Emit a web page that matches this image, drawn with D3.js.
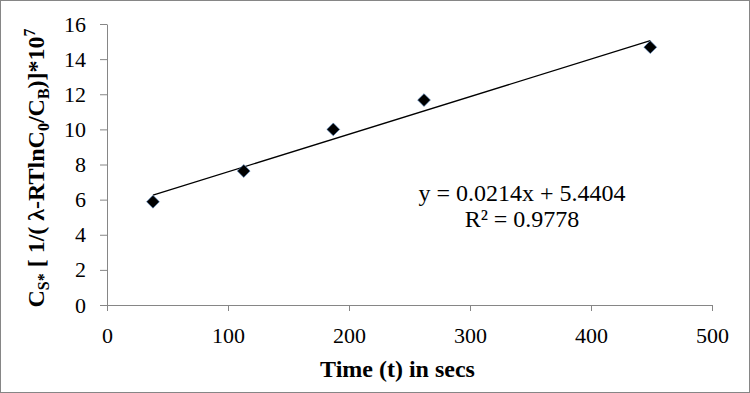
<!DOCTYPE html>
<html>
<head>
<meta charset="utf-8">
<script src="https://cdn.jsdelivr.net/npm/d3@7"></script>
<style>
  body { margin: 0; background: #fff; }
  svg text { font-family: "Liberation Serif", "Times New Roman", serif; fill: #000; }
</style>
</head>
<body>
<div id="chart"></div>
<script>
/// DATA ///
const timeSecs = [38, 113, 187, 262, 449];
const csValues = [5.88, 7.63, 10.0, 11.67, 14.68];
const xTicks = [0, 100, 200, 300, 400, 500];
const yTicks = [0, 2, 4, 6, 8, 10, 12, 14, 16];
const trendSlope = 0.0214;
const trendIntercept = 5.4404;
const trendR2 = 0.9778;

const width = 750, height = 393;
const margin = { top: 24, right: 38, bottom: 88, left: 107 };

const svg = d3
  .select("#chart")
  .append("svg")
  .attr("width", width)
  .attr("height", height);

// outer frame
svg
  .append("rect")
  .attr("x", 0.5)
  .attr("y", 0.5)
  .attr("width", width - 1)
  .attr("height", height - 1)
  .attr("fill", "#fff")
  .attr("stroke", "#868686");

const x = d3
  .scaleLinear()
  .domain([0, 500])
  .range([margin.left, width - margin.right]);

const y = d3
  .scaleLinear()
  .domain([0, 16])
  .range([height - margin.bottom, margin.top]);

// axes
const xAxis = svg
  .append("g")
  .attr("transform", `translate(0,${y(0)})`)
  .call(d3.axisBottom(x).tickValues(xTicks).tickSize(6).tickPadding(16).tickSizeOuter(0));

const yAxis = svg
  .append("g")
  .attr("transform", `translate(${x(0)},0)`)
  .call(d3.axisLeft(y).tickValues(yTicks).tickSize(7).tickPadding(14).tickSizeOuter(0));

[xAxis, yAxis].forEach((g) => {
  g.attr("font-size", 22);
  g.select(".domain").attr("stroke", "#868686");
  g.selectAll(".tick line").attr("stroke", "#868686");
});

// trendline
const xs = d3.extent(timeSecs);
svg
  .append("line")
  .attr("x1", x(xs[0]))
  .attr("y1", y(trendSlope * xs[0] + trendIntercept))
  .attr("x2", x(xs[1]))
  .attr("y2", y(trendSlope * xs[1] + trendIntercept))
  .attr("stroke", "#000")
  .attr("stroke-width", 1.3);

// points
const diamond = d3.symbol().type(d3.symbolDiamond2).size(105);
svg
  .append("g")
  .selectAll("path")
  .data(timeSecs.map((t, i) => ({ t, v: csValues[i] })))
  .join("path")
  .attr("d", diamond)
  .attr("transform", (d) => `translate(${x(d.t)},${y(d.v)})`)
  .attr("fill", "#000")
  .attr("stroke", "#4f81bd")
  .attr("stroke-width", 0.6);

// equation
const eq = svg.append("text").attr("text-anchor", "middle").style("font-size", "24px");
eq.append("tspan").attr("x", 522).attr("y", 201).text(`y = ${trendSlope}x + ${trendIntercept}`);
eq.append("tspan").attr("x", 522).attr("y", 227).text(`R\u00b2 = ${trendR2}`);

// x axis title
svg
  .append("text")
  .attr("x", x(250) - 12)
  .attr("y", 377)
  .attr("text-anchor", "middle")
  .style("font-size", "24px")
  .style("font-weight", "bold")
  .text("Time (t)  in secs");

// y axis title
const yt = svg
  .append("text")
  .attr("transform", "translate(44,168) rotate(-90)")
  .attr("text-anchor", "middle")
  .style("font-size", "24px")
  .style("font-weight", "bold");
yt.append("tspan").text("C");
yt.append("tspan").attr("dy", 5).style("font-size", "16px").text("S*");
yt.append("tspan").attr("dy", -5).text(" [ 1/( \u03bb-RTlnC");
yt.append("tspan").attr("dy", 5).style("font-size", "16px").text("0");
yt.append("tspan").attr("dy", -5).text("/C");
yt.append("tspan").attr("dy", 5).style("font-size", "16px").text("B");
yt.append("tspan").attr("dy", -5).text(")]*10");
yt.append("tspan").attr("dy", -9).style("font-size", "16px").text("7");
</script>
</body>
</html>
